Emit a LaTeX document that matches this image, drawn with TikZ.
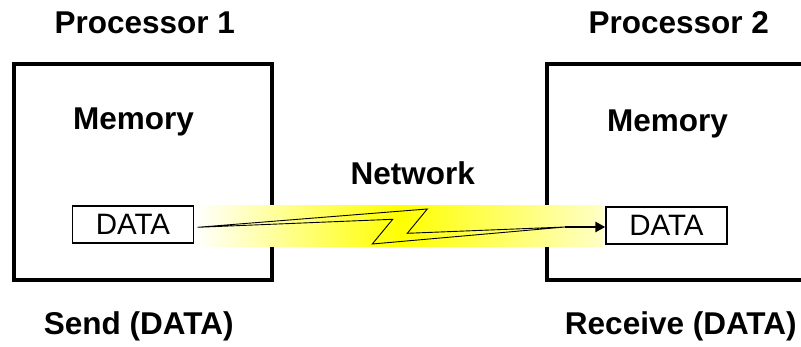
\documentclass[tikz,border=0pt]{standalone}
\usepackage{fontspec}
\setmainfont{Liberation Sans}
\usetikzlibrary{arrows.meta}

\begin{document}
\begin{tikzpicture}[x=1pt,y=-1pt,
    procbox/.style={draw, line width=4pt, minimum width=258pt, minimum height=216pt, inner sep=0pt},
    databox/.style={draw, line width=1.3pt, minimum width=121pt, minimum height=37pt, inner sep=0pt,
                    font=\fontsize{29.5}{32}\selectfont},
    title/.style={anchor=base, inner sep=0pt, font=\fontsize{31.5}{36}\selectfont\bfseries},
    bolt/.style={draw, line width=0.9pt, line join=miter},
    sendarrow/.style={line width=2.6pt, -{Triangle[length=10pt,width=10pt]}}]
  \useasboundingbox (0,0) rectangle (801,347);
  \clip (0,0) rectangle (801,347);

  % processor frames
  \node[procbox] (p1) at (142.7,171.7) {};
  \node[procbox] (p2) at (676,172) {};

  % network band between the two memories
  \shade[left color=white, right color=yellow!22, middle color=yellow]
    (195,206) rectangle (603,247);

  % data buffers
  \node[databox] (d1) at (133,224.5) {DATA};
  \node[databox] (d2) at (666.5,225.5) {DATA};

  % lightning bolt
  \coordinate (A) at (197.5,227.3);
  \coordinate (B) at (427.3,209);
  \coordinate (C) at (407.3,233.3);
  \coordinate (D) at (565,227);
  \coordinate (E) at (372.3,244);
  \coordinate (F) at (392.7,219.3);
  \draw[bolt] (A) -- (B) -- (C) -- (D) -- (E) -- (F) -- cycle;
  \draw[sendarrow] (D) -- (D -| d2.west);

  % labels
  \node[title] (t1) at (144.7,33.3) {Processor 1};
  \node[title] (t2) at (678.8,33.3) {Processor 2};
  \node[title] (m1) at (133.5,130) {Memory};
  \node[title] (m2) at (667.5,131.5) {Memory};
  \node[title] (net) at (412.7,185) {Network};
  \node[title] (s1) at (138.7,335) {Send (DATA)};
  \node[title] (r2) at (680.8,335) {Receive (DATA)};
\end{tikzpicture}
\end{document}
